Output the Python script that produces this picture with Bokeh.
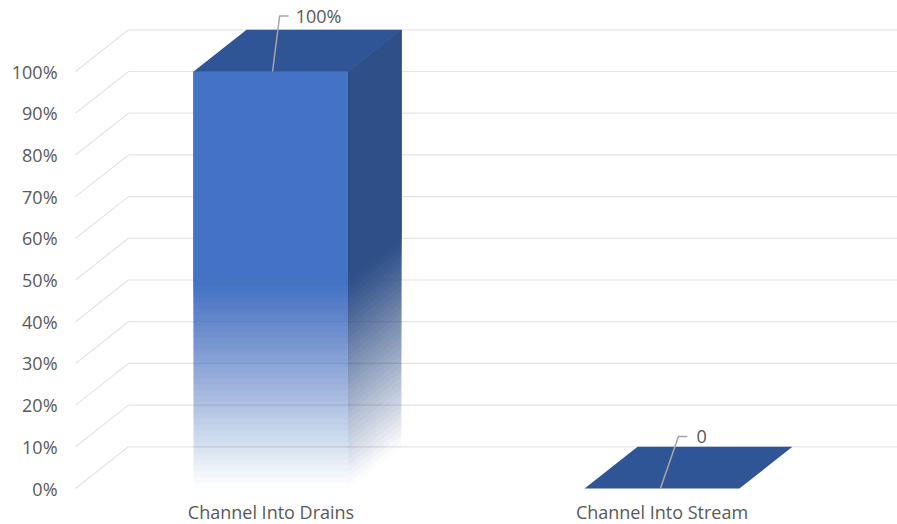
from bokeh.plotting import figure
from bokeh.models import Range1d, ColumnDataSource
from bokeh.embed import file_html
from bokeh.resources import INLINE
from bokeh.core.properties import value

# ---------------- data ----------------
categories = ["Channel Into Drains", "Channel Into Stream"]
shares = [1.0, 0.0]
data_labels = ["100%", "0"]
y_ticks = [0.0, 0.1, 0.2, 0.3, 0.4, 0.5, 0.6, 0.7, 0.8, 0.9, 1.0]
y_tick_labels = ["0%", "10%", "20%", "30%", "40%", "50%", "60%", "70%", "80%", "90%", "100%"]

# ---------------- style ----------------
FRONT = "#4472C4"
SIDE = "#2E4F88"
TOP = "#2F5597"
GRID = "#E4E4E4"
TEXT = "#595959"
LEADER = "#A6A6A6"
FONT = "Open Sans"
FS = "18px"
BAR_W = 0.396      # bar width in category units
DX = 0.1355        # depth offset (x)
DY = 0.10          # depth offset (y)
FADE = 0.5         # lower fraction of bar that fades out
N = 36             # gradient steps
CAT_LABEL_Y = -0.056
# leader line offsets per data label (style): start dx, elbow dx, elbow dy, end dx, text dx
LEAD_START = [0.004, -0.004]
LEAD_ELBOW_DX = [0.022, 0.042]
LEAD_ELBOW_DY = [0.133, 0.125]
LEAD_END_DX = [0.045, 0.065]
LEAD_TEXT_DX = [0.063, 0.088]

p = figure(width=897, height=524,
           x_range=Range1d(-0.1918, 2.1023), y_range=Range1d(-0.0863, 1.1703),
           output_backend="svg", toolbar_location=None,
           x_axis_location=None, y_axis_location=None,
           min_border=0, outline_line_color=None,
           background_fill_color="white", border_fill_color="white")
p.grid.visible = False

# ---------------- grid (floor diagonals + back wall) ----------------
p.segment(x0=[0.0] * len(y_ticks), y0=y_ticks,
          x1=[DX] * len(y_ticks), y1=[t + DY for t in y_ticks],
          line_color=GRID, line_width=1.2)
p.segment(x0=[DX] * len(y_ticks), y0=[t + DY for t in y_ticks],
          x1=[len(categories) + DX + 0.2] * len(y_ticks), y1=[t + DY for t in y_ticks],
          line_color=GRID, line_width=1.2)

# ---------------- bars ----------------
for i, v in enumerate(shares):
    c = i + 0.5
    l, r = c - BAR_W / 2, c + BAR_W / 2
    if v > 0:
        # nested shapes to build a smooth alpha gradient (transparent at the floor)
        bottoms, alphas = [], []
        prev_t = 1.0
        for k in range(N):
            A = (k + 0.5) / N
            t = 1.0 - A
            a = 1.0 - t / prev_t
            prev_t = t
            bottoms.append(k * FADE * v / N)
            alphas.append(a)
        bottoms.append(FADE * v)
        alphas.append(1.0)
        src_front = ColumnDataSource(dict(left=[l] * len(bottoms), right=[r] * len(bottoms),
                                          bottom=bottoms, top=[v] * len(bottoms), alpha=alphas))
        p.quad(left="left", right="right", bottom="bottom", top="top", source=src_front,
               fill_color=FRONT, fill_alpha="alpha", line_color=None)
        xs = [[r, r + DX, r + DX, r] for _ in bottoms]
        ys = [[b, b + DY, v + DY, v] for b in bottoms]
        p.patches(xs=xs, ys=ys, fill_color=SIDE, fill_alpha=alphas, line_color=None)
    # top face
    p.patch(x=[l, r, r + DX, l + DX], y=[v, v, v + DY, v + DY],
            fill_color=TOP, line_color=None)

# ---------------- data labels with leader lines ----------------
for i, (v, lab) in enumerate(zip(shares, data_labels)):
    c = i + 0.5
    p.line(x=[c + LEAD_START[i], c + LEAD_ELBOW_DX[i], c + LEAD_END_DX[i]],
           y=[v, v + LEAD_ELBOW_DY[i], v + LEAD_ELBOW_DY[i]],
           line_color=LEADER, line_width=1.5)
    p.text(x=[c + LEAD_TEXT_DX[i]], y=[v + LEAD_ELBOW_DY[i]], text=[lab],
           text_font=value(FONT), text_font_size=value(FS), text_color=TEXT,
           text_align="left", text_baseline="middle")

# ---------------- axis labels ----------------
p.text(x=[-0.046] * len(y_ticks), y=y_ticks, text=y_tick_labels,
       text_font=value(FONT), text_font_size=value(FS), text_color=TEXT,
       text_align="right", text_baseline="middle")
p.text(x=[i + 0.5 for i in range(len(categories))], y=[CAT_LABEL_Y] * len(categories), text=categories,
       text_font=value(FONT), text_font_size=value(FS), text_color=TEXT,
       text_align="center", text_baseline="middle")

open("out.html", "w").write(file_html(p, INLINE))
